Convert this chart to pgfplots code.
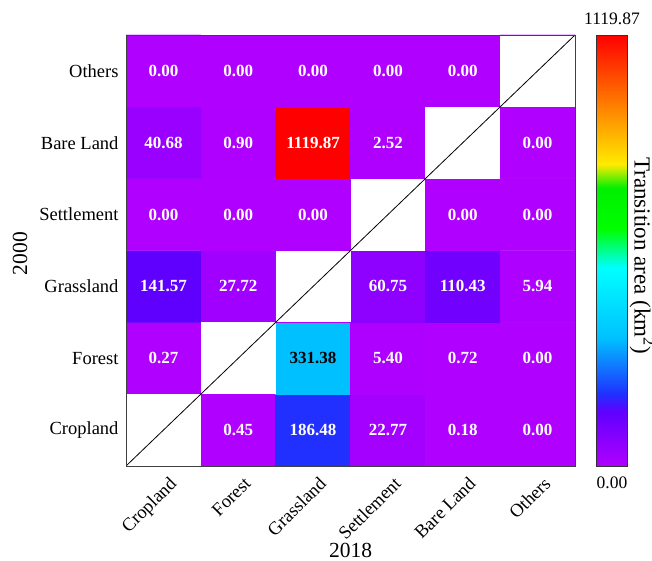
\documentclass[border=0pt]{standalone}
\usepackage{fontspec}
\setmainfont{Liberation Serif}
\usepackage{pgfplots}
\pgfplotsset{compat=1.18}
\begin{document}
\begin{tikzpicture}
\begin{axis}[
  name=ax,
  width=449bp, height=431bp, scale only axis,
  xmin=-0.5, xmax=5.5, ymin=-0.5, ymax=5.5,
  enlargelimits=false,
  axis on top,
  xtick={0,...,5}, ytick={0,...,5},
  xticklabels={Cropland,Forest,Grassland,Settlement,Bare Land,Others},
  yticklabels={Cropland,Forest,Grassland,Settlement,Bare Land,Others},
  major tick length=0pt,
  tick label style={font=\fontsize{18.5bp}{22bp}\selectfont},
  x tick label style={rotate=45, anchor=north east, yshift=-7bp},
  y tick label style={xshift=-4bp},
  xlabel={2018}, ylabel={2000},
  label style={font=\fontsize{21.5bp}{25bp}\selectfont},
  xlabel style={at={(axis description cs:0.5,0)}, anchor=center, yshift=-84bp, xshift=0bp},
  ylabel style={at={(axis description cs:0,0.5)}, anchor=center, yshift=106bp, xshift=-3bp},
  axis line style={draw=black!75, line width=0.8bp},
  colormap={landuse}{rgb255(0)=(176,0,255) rgb255(0.126)=(96,0,255) rgb255(0.167)=(32,48,255) rgb255(0.296)=(0,192,255) rgb255(0.46)=(0,255,255) rgb255(0.55)=(0,255,0) rgb255(0.645)=(0,240,0) rgb255(0.70)=(255,235,0) rgb255(0.82)=(255,140,0) rgb255(1)=(255,0,0)},
  point meta min=0, point meta max=1119.87,
  colorbar,
  colorbar/width=31bp,
  colorbar style={
    at={(parent axis.north east)}, anchor=north west, xshift=13bp,
    width=31bp, height=431bp, scale only axis,
    xmin=0, xmax=1, enlargelimits=false,
    ytick=\empty, xtick=\empty, major tick length=0pt,
    axis line style={draw=black!80, line width=0.8bp},
    after end axis/.code={
      \path (rel axis cs:0.5,1) ++(0,10bp) node[anchor=south, inner sep=0pt, font=\fontsize{17.5bp}{20bp}\selectfont] {1119.87};
      \path (rel axis cs:0.5,0) ++(0,-11bp) node[anchor=north, inner sep=0pt, font=\fontsize{17.5bp}{20bp}\selectfont] {0.00};
      \path (rel axis cs:1,0.5) ++(7bp,-5bp) node[rotate=-90, anchor=base, inner sep=0pt, font=\fontsize{23bp}{27bp}\selectfont] {Transition area (km\textsuperscript{2})};
    }
  }
]
\addplot[matrix plot*, mesh/cols=6, point meta=explicit] table[meta=c] {
x y c
0 0 0
1 0 0.45
2 0 186.48
3 0 22.77
4 0 0.18
5 0 0.00
0 1 0.27
1 1 0
2 1 331.38
3 1 5.40
4 1 0.72
5 1 0.00
0 2 141.57
1 2 27.72
2 2 0
3 2 60.75
4 2 110.43
5 2 5.94
0 3 0.00
1 3 0.00
2 3 0.00
3 3 0
4 3 0.00
5 3 0.00
0 4 40.68
1 4 0.90
2 4 1119.87
3 4 2.52
4 4 0
5 4 0.00
0 5 0.00
1 5 0.00
2 5 0.00
3 5 0.00
4 5 0.00
5 5 0
};
\addplot[fill=white, draw=none, forget plot] coordinates {(-0.5,-0.5) (0.5,-0.5) (0.5,0.5) (-0.5,0.5)};
\addplot[fill=white, draw=none, forget plot] coordinates {(0.5,0.5) (1.5,0.5) (1.5,1.5) (0.5,1.5)};
\addplot[fill=white, draw=none, forget plot] coordinates {(1.5,1.5) (2.5,1.5) (2.5,2.5) (1.5,2.5)};
\addplot[fill=white, draw=none, forget plot] coordinates {(2.5,2.5) (3.5,2.5) (3.5,3.5) (2.5,3.5)};
\addplot[fill=white, draw=none, forget plot] coordinates {(3.5,3.5) (4.5,3.5) (4.5,4.5) (3.5,4.5)};
\addplot[fill=white, draw=none, forget plot] coordinates {(4.5,4.5) (5.5,4.5) (5.5,5.5) (4.5,5.5)};
\addplot[black, line width=0.8bp, forget plot] coordinates {(-0.5,-0.5) (5.5,5.5)};
\addplot[only marks, mark=none, forget plot, nodes near coords=\pgfplotspointmeta, point meta=explicit symbolic,
  every node near coord/.style={anchor=center, text=white, font=\bfseries\fontsize{17bp}{20bp}\selectfont}]
  table[meta=t] {
x y t
1 0 0.45
2 0 186.48
3 0 22.77
4 0 0.18
5 0 0.00
0 1 0.27
3 1 5.40
4 1 0.72
5 1 0.00
0 2 141.57
1 2 27.72
3 2 60.75
4 2 110.43
5 2 5.94
0 3 0.00
1 3 0.00
2 3 0.00
4 3 0.00
5 3 0.00
0 4 40.68
1 4 0.90
2 4 1119.87
3 4 2.52
5 4 0.00
0 5 0.00
1 5 0.00
2 5 0.00
3 5 0.00
4 5 0.00
};
\addplot[only marks, mark=none, forget plot, nodes near coords=\pgfplotspointmeta, point meta=explicit symbolic,
  every node near coord/.style={anchor=center, text=black, font=\bfseries\fontsize{17bp}{20bp}\selectfont}]
  table[meta=t] {
x y t
2 1 331.38
};
\end{axis}
\pgfresetboundingbox
\path ([shift={(-126bp,-94bp)}]ax.south west) rectangle ([shift={(77bp,35bp)}]ax.north east);
\end{tikzpicture}
\end{document}
